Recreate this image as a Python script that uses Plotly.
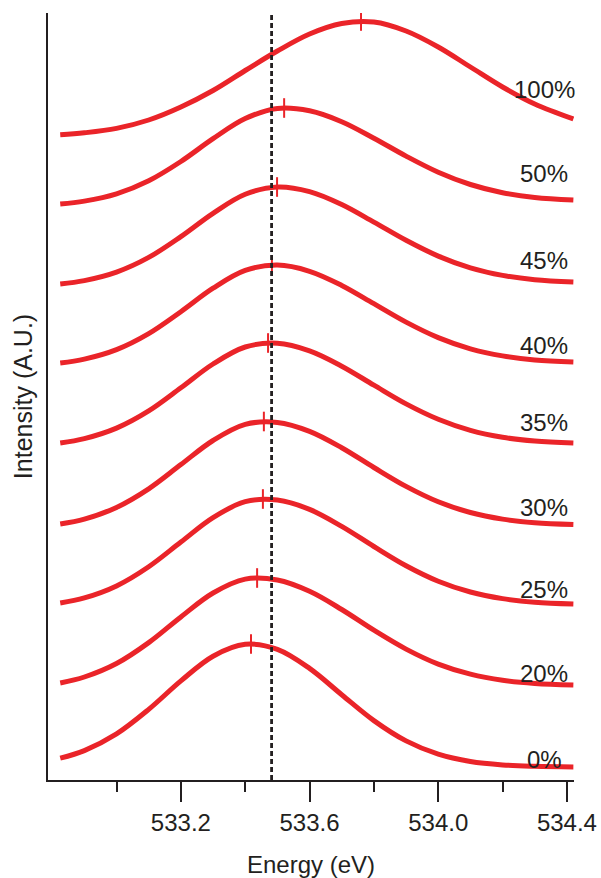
import plotly.graph_objects as go

# O 1s spectra (arbitrary units, stacked) versus binding energy
energy = [532.825, 532.9, 533.0, 533.1, 533.2, 533.3, 533.4, 533.5, 533.6,
          533.7, 533.8, 533.9, 534.0, 534.1, 534.2, 534.3, 534.42]

i_0 = [21.8, 29.4, 46.1, 70.6, 99.1, 123.8, 135.7, 130.6, 111.6, 85.3, 59.4,
       39.1, 25.8, 18.5, 15.1, 13.7, 13.0]
i_20 = [97.0, 103.0, 116.5, 137.4, 163.1, 187.0, 200.9, 200.0, 188.7, 170.5,
        149.8, 130.9, 115.9, 105.8, 99.7, 96.6, 95.0]
i_25 = [177.0, 182.1, 194.1, 213.3, 238.0, 262.4, 278.3, 279.9, 270.6, 253.6,
        233.5, 214.3, 198.8, 188.0, 181.4, 177.8, 176.0]
i_30 = [256.0, 260.9, 272.6, 291.2, 315.4, 339.5, 355.6, 357.6, 348.7, 332.3,
        312.5, 293.6, 278.2, 267.5, 260.9, 257.3, 255.5]
i_35 = [337.0, 341.4, 351.9, 369.1, 392.2, 416.0, 433.0, 436.7, 429.1, 413.8,
        394.8, 376.1, 360.7, 349.6, 342.7, 339.0, 337.0]
i_40 = [417.0, 420.9, 430.4, 446.4, 468.3, 491.8, 509.6, 514.9, 508.7, 494.6,
        476.3, 457.9, 442.4, 431.2, 424.1, 420.1, 418.0]
i_45 = [496.0, 499.4, 507.9, 522.6, 543.4, 566.7, 585.7, 593.0, 588.4, 575.5,
        557.9, 539.7, 523.9, 512.2, 504.6, 500.3, 498.0]
i_50 = [576.0, 578.9, 586.1, 599.2, 618.5, 641.3, 661.4, 671.6, 669.2, 658.3,
        641.8, 623.9, 607.8, 595.5, 587.3, 582.6, 580.0]
i_100 = [645.2, 647.2, 651.6, 660.0, 673.0, 689.5, 709.5, 729.0, 746.0,
         756.5, 758.0, 749.0, 733.0, 713.0, 693.0, 676.0, 661.0]

spectra = [i_0, i_20, i_25, i_30, i_35, i_40, i_45, i_50, i_100]
labels = ["0%", "20%", "25%", "30%", "35%", "40%", "45%", "50%", "100%"]
label_y = [21, 107, 191, 273, 358, 435, 520, 607, 691]
label_x = 534.33

# fitted peak positions
peak_energy = [533.418, 533.437, 533.455, 533.458, 533.471, 533.483, 533.499,
               533.521, 533.760]
peak_intensity = [136, 202, 281, 358.5, 437, 515, 593, 672, 759]

reference_energy = 533.482

x_ticks = [533.2, 533.6, 534.0, 534.4]
x_tick_text = ["533.2", "533.6", "534.0", "534.4"]
x_minor = [533.0, 533.4, 533.8, 534.2]

RED = "#ea2429"
INK = "#231f20"
FONT = "Liberation Sans, Arial, Helvetica, sans-serif"

fig = go.Figure()

for ys in spectra:
    fig.add_trace(go.Scatter(
        x=energy, y=ys, mode="lines",
        line=dict(color=RED, width=5, shape="spline", smoothing=1.0),
        hoverinfo="skip",
    ))

fig.add_trace(go.Scatter(
    x=peak_energy, y=peak_intensity, mode="markers",
    marker=dict(symbol="line-ns", size=14, color=RED,
                line=dict(color=RED, width=2)),
    hoverinfo="skip",
))

fig.add_shape(type="line", xref="x", yref="paper",
              x0=reference_energy, x1=reference_energy, y0=0, y1=1,
              line=dict(color=INK, width=2.8, dash="5px,3px"))

for txt, yv in zip(labels, label_y):
    fig.add_annotation(x=label_x, y=yv, text=txt, showarrow=False,
                       xanchor="center", yanchor="middle",
                       font=dict(size=24, color=INK, family=FONT))

fig.update_layout(
    width=601, height=878,
    margin=dict(l=48, r=27, t=13, b=98),
    paper_bgcolor="white", plot_bgcolor="white",
    showlegend=False,
    font=dict(family=FONT, color=INK, size=24),
)

fig.update_xaxes(
    range=[532.787, 534.422],
    showline=True, linecolor=INK, linewidth=2,
    showgrid=False, zeroline=False,
    ticks="outside", ticklen=20, tickwidth=2, tickcolor=INK,
    tickmode="array", tickvals=x_ticks, ticktext=x_tick_text,
    tickfont=dict(size=24, color=INK, family=FONT),
    minor=dict(tickmode="array", tickvals=x_minor, ticks="outside",
               ticklen=10, tickwidth=2, tickcolor=INK, showgrid=False),
    title=dict(text="Energy (eV)", font=dict(size=24, color=INK, family=FONT),
               standoff=21),
    automargin=False,
)

fig.update_yaxes(
    range=[0, 767],
    showline=True, linecolor=INK, linewidth=2,
    showgrid=False, zeroline=False,
    ticks="", showticklabels=False,
    title=dict(text="Intensity (A.U.)",
               font=dict(size=25, color=INK, family=FONT), standoff=6),
    automargin=False,
)

fig.write_html("out.html")
